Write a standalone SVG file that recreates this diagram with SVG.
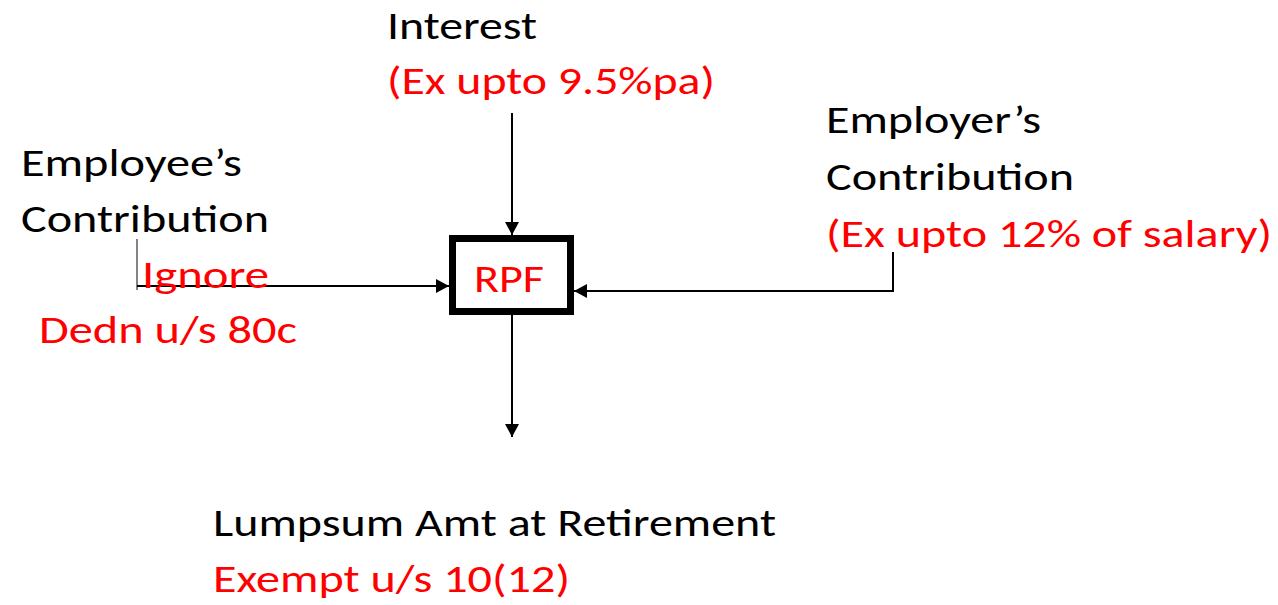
<svg xmlns="http://www.w3.org/2000/svg" width="1278" height="605" viewBox="0 0 1278 605">
<defs>
<style>
text{font-family:Carlito,Lato,"Open Sans","Liberation Sans",sans-serif;font-size:39px}
.b{fill:#000}
.r{fill:#FF0000}
.ln{stroke:#000;stroke-width:2;fill:none}
.thin{stroke:#333;stroke-width:1.2;fill:none}
</style>
<marker id="ah" markerUnits="userSpaceOnUse" markerWidth="14" markerHeight="14" viewBox="0 0 14 14" refX="13" refY="7" orient="auto">
<path d="M0,0 L13,7 L0,14 Z" fill="#000"/>
</marker>
</defs>
<rect width="1278" height="605" fill="#fff"/>
<g id="connectors">
<line class="ln" x1="512" y1="113" x2="512" y2="235" marker-end="url(#ah)"/>
<line class="thin" x1="137" y1="239" x2="137" y2="290"/>
<line class="ln" x1="137" y1="286" x2="449" y2="286" marker-end="url(#ah)"/>
<polyline class="ln" points="893,252 893,291 574,291" marker-end="url(#ah)"/>
<line class="ln" x1="512" y1="315" x2="512" y2="437" marker-end="url(#ah)"/>
</g>
<g id="rpf">
<rect x="452.5" y="238.5" width="118" height="73" fill="#fff" stroke="#000" stroke-width="7"/>
<text class="r" x="474" y="292" textLength="70" lengthAdjust="spacingAndGlyphs">RPF</text>
</g>
<g id="interest">
<text class="b" x="387" y="39" textLength="150" lengthAdjust="spacingAndGlyphs">Interest</text>
<text class="r" x="387" y="94" textLength="328" lengthAdjust="spacingAndGlyphs">(Ex upto 9.5%pa)</text>
</g>
<g id="employee">
<text class="b" x="21" y="176" textLength="221" lengthAdjust="spacingAndGlyphs">Employee’s</text>
<text class="b" x="21" y="232" textLength="248" lengthAdjust="spacingAndGlyphs">Contribution</text>
<text class="r" x="142" y="288" textLength="127" lengthAdjust="spacingAndGlyphs">Ignore</text>
<text class="r" x="39" y="343" textLength="258" lengthAdjust="spacingAndGlyphs">Dedn u/s 80c</text>
</g>
<g id="employer">
<text class="b" x="826" y="133" textLength="215" lengthAdjust="spacingAndGlyphs">Employer’s</text>
<text class="b" x="826" y="190" textLength="248" lengthAdjust="spacingAndGlyphs">Contribution</text>
<text class="r" x="826" y="247" textLength="446" lengthAdjust="spacingAndGlyphs">(Ex upto 12% of salary)</text>
</g>
<g id="lumpsum">
<text class="b" x="213" y="536" textLength="563" lengthAdjust="spacingAndGlyphs">Lumpsum Amt at Retirement</text>
<text class="r" x="213" y="592" textLength="357" lengthAdjust="spacingAndGlyphs">Exempt u/s 10(12)</text>
</g>
</svg>
